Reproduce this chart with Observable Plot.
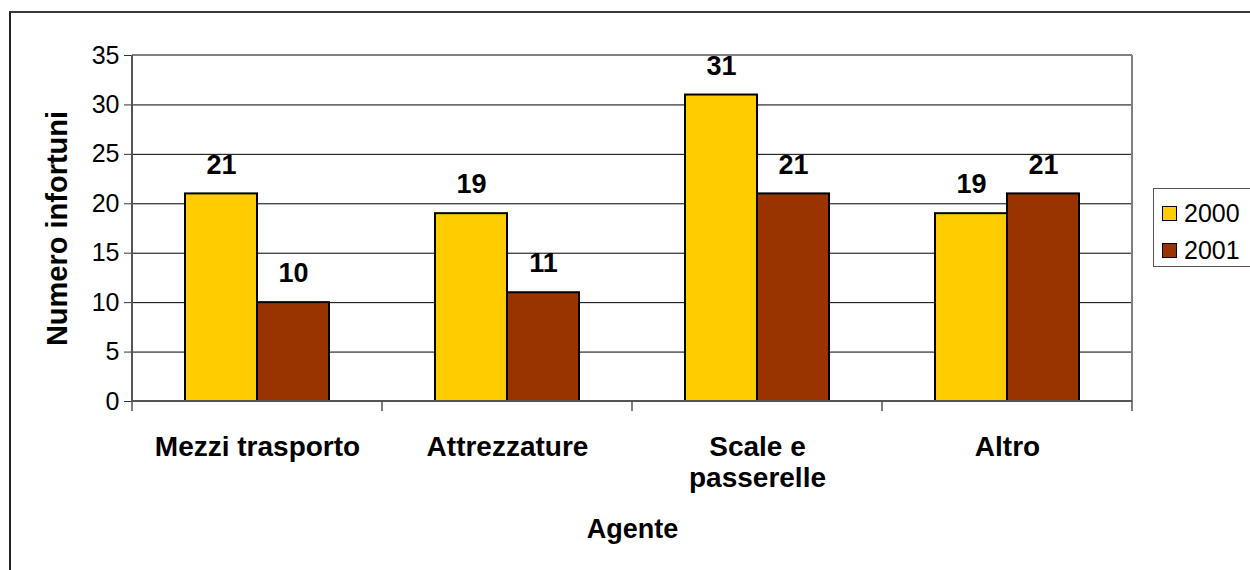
<!DOCTYPE html>
<html><head><meta charset="utf-8">
<script src="https://cdn.jsdelivr.net/npm/d3@7"></script>
<script src="https://cdn.jsdelivr.net/npm/@observablehq/plot@0.6"></script>
<style>
body{margin:0;background:#fff;}
#wrap{position:relative;width:1250px;height:570px;overflow:hidden;font-family:"Liberation Sans",Arial,sans-serif;background:#fff;}
#frame{position:absolute;left:9px;top:11px;width:1400px;height:700px;border-left:2px solid #222;border-top:2px solid #3a3a3a;box-sizing:border-box;}
#chart{position:absolute;left:0;top:0;}
#legend{position:absolute;left:1153px;top:188px;width:140px;height:79px;border:1.5px solid #555;background:#fff;box-sizing:border-box;}
.item{position:absolute;left:8px;height:20px;font-size:25px;line-height:20px;color:#000;}
.sw{position:absolute;left:0;top:3px;width:15px;height:15px;border:1.5px solid #000;box-sizing:border-box;}
.lb{position:absolute;left:22px;top:0;white-space:nowrap;}
</style></head>
<body><div id="wrap"><div id="frame"></div><div id="chart"></div><div id="legend"></div></div>
<script>
const categories = ["Mezzi trasporto", "Attrezzature", "Scale e\npasserelle", "Altro"];
const years = ["2000", "2001"];
const values2000 = [21, 19, 31, 19];
const values2001 = [10, 11, 21, 21];
const yTicks = [0, 5, 10, 15, 20, 25, 30, 35];
const colors = ["#FFCC00", "#993300"];
const yTitle = "Numero infortuni";
const xTitle = "Agente";

const data = categories.flatMap((c, i) => [
  {agente: c, anno: years[0], n: values2000[i]},
  {agente: c, anno: years[1], n: values2001[i]}
]);

const chart = Plot.plot({
  width: 1250, height: 570,
  marginLeft: 132, marginRight: 118, marginTop: 55, marginBottom: 169,
  style: {fontFamily: "'Liberation Sans', Arial, sans-serif", background: "transparent", overflow: "visible", color: "#000"},
  fx: {domain: categories, padding: 0, axis: null},
  x: {domain: years, paddingInner: 0, paddingOuter: 0.733, axis: null},
  y: {domain: [0, 35], axis: null},
  color: {domain: years, range: colors},
  marks: [
    Plot.ruleY(yTicks.filter(d => d > 0 && d < 35), {stroke: "#000", strokeWidth: 1}),
    Plot.barY(data, {fx: "agente", x: "anno", y: "n", fill: "anno", stroke: "#000", strokeWidth: 2}),
    Plot.text(data, {fx: "agente", x: "anno", y: "n", text: "n", dy: -29, fontSize: 27, fontWeight: "bold", fill: "#000"}),
    Plot.axisY({ticks: yTicks, tickSize: 8, tickPadding: 5, fontSize: 25, label: null, facetAnchor: "left", stroke: "#333"}),
    Plot.text([yTitle], {frameAnchor: "left", textAnchor: "middle", rotate: -90, dx: -75, fontSize: 29, fontWeight: "bold", fill: "#000", facetAnchor: "left"}),
    Plot.text(categories, {fx: d => d, text: d => d, frameAnchor: "bottom", lineAnchor: "top", dy: 33, fontSize: 28, fontWeight: "bold", lineHeight: 1.1, fill: "#000"}),
    Plot.text([{t: xTitle, agente: categories[1]}], {fx: "agente", text: "t", frameAnchor: "bottom-right", textAnchor: "middle", lineAnchor: "top", dy: 117, fontSize: 27, fontWeight: "bold", fill: "#000"})
  ]
});
document.getElementById("chart").appendChild(chart);

// plot-area border, axis lines and category tick marks drawn from Plot's own scales
const fxS = chart.scale("fx"), yS = chart.scale("y");
const L = fxS.apply(categories[0]);
const R = fxS.apply(categories[categories.length - 1]) + fxS.bandwidth;
const Y0 = yS.apply(0), YT = yS.apply(35);
const g = d3.select(chart).append("g");
g.append("line").attr("x1", L).attr("x2", R).attr("y1", YT).attr("y2", YT).attr("stroke", "#808080").attr("stroke-width", 2);
g.append("line").attr("x1", R).attr("x2", R).attr("y1", YT).attr("y2", Y0).attr("stroke", "#808080").attr("stroke-width", 2);
g.append("line").attr("x1", L).attr("x2", L).attr("y1", YT).attr("y2", Y0).attr("stroke", "#555").attr("stroke-width", 2);
g.append("line").attr("x1", L).attr("x2", R).attr("y1", Y0).attr("y2", Y0).attr("stroke", "#555").attr("stroke-width", 2);
const bounds = categories.map(c => fxS.apply(c)).concat([R]);
g.selectAll(".bt").data(bounds).join("line").attr("x1", d => d).attr("x2", d => d)
  .attr("y1", Y0).attr("y2", Y0 + 10).attr("stroke", "#555").attr("stroke-width", 1.5);

// legend
const leg = d3.select("#legend");
years.forEach((y, i) => {
  const it = leg.append("div").attr("class", "item").style("top", (14 + i * 37) + "px");
  it.append("div").attr("class", "sw").style("background", colors[i]);
  it.append("div").attr("class", "lb").text(y);
});
</script>
</body></html>
